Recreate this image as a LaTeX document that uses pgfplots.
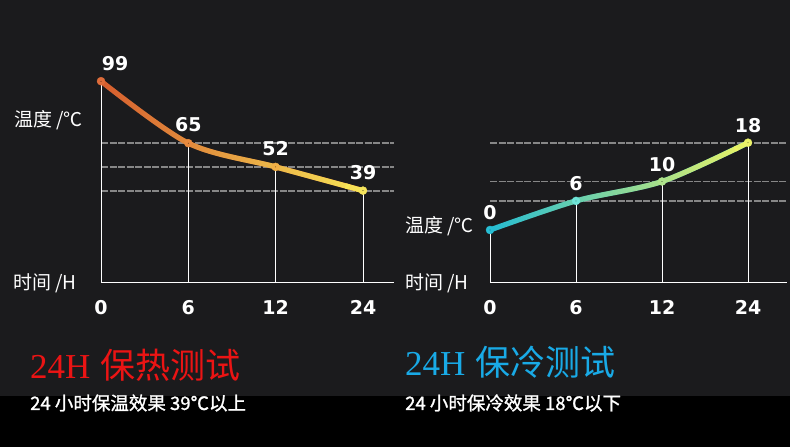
\documentclass[border=0pt]{standalone}
\usepackage{pgfplots}
\usepackage{pgfplotstable}
\pgfplotsset{compat=1.18}
\usepackage{fontspec}
\usetikzlibrary{fadings,arrows.meta}
\setmainfont{Liberation Sans}
\newfontfamily\cjk{Noto Sans CJK SC}
\newfontfamily\cjkb[FakeBold=1.2]{Noto Sans CJK SC}
\newfontfamily\digits{DejaVu Sans}
\newfontfamily\serifA{Liberation Serif}

\definecolor{bgtop}{RGB}{27,27,29}
\definecolor{LA}{RGB}{214,92,46}
\definecolor{LC}{RGB}{248,232,88}
\definecolor{RA}{RGB}{35,188,212}
\definecolor{RC}{RGB}{238,244,100}
\definecolor{gridc}{RGB}{135,135,135}
\definecolor{titlered}{RGB}{235,20,20}
\definecolor{titleblue}{RGB}{25,170,230}

\tikzfading[name=fadeR, left color=transparent!100, right color=transparent!0]

% x = position of the time tick (0 h, 6 h, 12 h, 24 h), y = temperature
\pgfplotstableread{
x y
0 99
1 65
2 52
3 39
}\hotdata
\pgfplotstableread{
x y
0 0
1 6
2 10
3 18
}\colddata

\def\LYmin{-11.63}
\def\RYmin{-10.93}

\pgfplotsset{
  tempaxis/.style={
    scale only axis, anchor=south west, enlargelimits=false, clip=true,
    axis x line=bottom, axis y line=left,
    axis line style={-},
    x axis line style={white, line width=1bp, -},
    y axis line style={draw=none, -},
    xtick={0,1,2,3}, xticklabels={0,6,12,24},
    yticklabels={},
    ymajorgrids, grid style={gridc, line width=1.8bp, dash pattern=on 7bp off 1.5bp},
    major tick length=0pt,
    xticklabel style={font=\digits\bfseries\fontsize{19bp}{19bp}\selectfont, text=white, inner sep=0pt, yshift=-17bp},
    /pgf/number format/assume math mode=true,
  },
  lbl/.style={only marks, mark=*, mark size=0.1pt, mark options={draw=none, fill=none},
    point meta=explicit symbolic, nodes near coords,
    nodes near coords style={font=\digits\bfseries\fontsize{19bp}{19bp}\selectfont, text=white, inner sep=0pt, anchor=south}},
}

\begin{document}
\begin{tikzpicture}
\useasboundingbox (0,0) rectangle (790bp,447bp);
\fill[bgtop] (0,0) rectangle (790bp,447bp);
\fill[black] (0,0) rectangle (790bp,51bp);

% ---------- left: heat retention ----------
\begin{axis}[tempaxis,
  at={(101bp,164bp)}, width=293bp, height=221.9bp,
  xmin=0, xmax=3.355, ymin=\LYmin, ymax=110,
  ytick={39,52,65},
  colormap={lp}{rgb255=(222,108,58) rgb255=(232,138,62) rgb255=(242,176,70) rgb255=(245,228,92)},
]
\addplot[draw=none, mark=none, forget plot,
  error bars/.cd, y dir=minus, y explicit, error mark=none,
  error bar style={draw=white, line width=0.8bp, solid}]
  table[x=x, y=y, y error expr=\thisrow{y}-(\LYmin)] {\hotdata};
\addplot[smooth, mark=none, line width=5.2bp, draw=LA, line cap=round] table[x=x, y=y] {\hotdata};
\addplot[smooth, mark=none, line width=5.2bp, draw=LC, line cap=round, path fading=fadeR, -{Butt Cap[length=14bp]}] table[x=x, y=y] {\hotdata};
\addplot[scatter, only marks, mark=*, mark size=4bp, point meta=x,
  scatter/use mapped color={draw=mapped color, fill=mapped color}] table[x=x, y=y] {\hotdata};
\addplot[lbl, restrict x to domain=-0.5:0.5, nodes near coords style={xshift=14bp, yshift=10bp}] table[x=x, y=y, meta=y] {\hotdata};
\addplot[lbl, restrict x to domain=0.5:3.5, nodes near coords style={yshift=11bp}] table[x=x, y=y, meta=y] {\hotdata};
\end{axis}

% ---------- right: cold retention ----------
\begin{axis}[tempaxis,
  at={(490bp,164bp)}, width=296.7bp, height=188.8bp,
  xmin=0, xmax=3.45, ymin=\RYmin, ymax=28,
  ytick={6,10,18},
  colormap={rp}{rgb255=(40,190,212) rgb255=(110,228,215) rgb255=(175,228,140) rgb255=(235,242,105)},
]
\addplot[draw=none, mark=none, forget plot,
  error bars/.cd, y dir=minus, y explicit, error mark=none,
  error bar style={draw=white, line width=0.8bp, solid}]
  table[x=x, y=y, y error expr=\thisrow{y}-(\RYmin)] {\colddata};
\addplot[smooth, mark=none, line width=5.2bp, draw=RA, line cap=round] table[x=x, y=y] {\colddata};
\addplot[smooth, mark=none, line width=5.2bp, draw=RC, line cap=round, path fading=fadeR, -{Butt Cap[length=11bp]}] table[x=x, y=y] {\colddata};
\addplot[scatter, only marks, mark=*, mark size=4bp, point meta=x,
  scatter/use mapped color={draw=mapped color, fill=mapped color}] table[x=x, y=y] {\colddata};
\addplot[lbl, nodes near coords style={yshift=10bp}] table[x=x, y=y, meta=y] {\colddata};
\end{axis}

% ---------- axis captions ----------
\node[anchor=west, inner sep=0pt, text=white, font=\cjk\fontsize{19bp}{19bp}\selectfont] at (14bp,327bp) {温度 /℃};
\node[anchor=west, inner sep=0pt, text=white, font=\cjk\fontsize{19bp}{19bp}\selectfont] at (13bp,164bp) {时间 /H};
\node[anchor=west, inner sep=0pt, text=white, font=\cjk\fontsize{19bp}{19bp}\selectfont] at (405bp,221bp) {温度 /℃};
\node[anchor=west, inner sep=0pt, text=white, font=\cjk\fontsize{19bp}{19bp}\selectfont] at (405bp,164bp) {时间 /H};

% ---------- titles ----------
\node[anchor=west, inner sep=0pt, text=titlered, font=\fontsize{35bp}{35bp}\selectfont] at (30bp,82bp) {{\serifA 24H} {\cjk 保热测试}};
\node[anchor=west, inner sep=0pt, text=titleblue, font=\fontsize{35bp}{35bp}\selectfont] at (405bp,85bp) {{\serifA 24H} {\cjk 保冷测试}};
\node[anchor=west, inner sep=0pt, text=white, font=\cjkb\fontsize{18.5bp}{18.5bp}\selectfont] at (30bp,44bp) {24 小时保温效果 39℃以上};
\node[anchor=west, inner sep=0pt, text=white, font=\cjkb\fontsize{18.5bp}{18.5bp}\selectfont] at (405bp,44bp) {24 小时保冷效果 18℃以下};
\end{tikzpicture}
\end{document}
